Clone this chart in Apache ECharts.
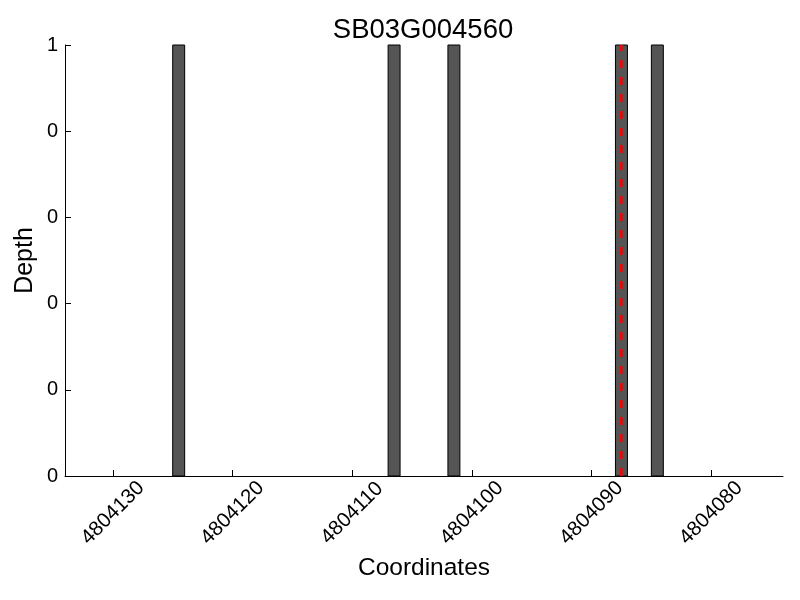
<!DOCTYPE html>
<html>
<head>
<meta charset="utf-8">
<script src="https://cdn.jsdelivr.net/npm/echarts@6/dist/echarts.min.js"></script>
<style>html,body{margin:0;padding:0;background:#fff}#c{width:800px;height:600px}</style>
</head>
<body>
<div id="c"></div>
<script>
// Data
const titleText = 'SB03G004560';
const barPositions = [4804124, 4804106, 4804101, 4804087, 4804084];
const depths = [1, 1, 1, 1, 1];
const markerPosition = 4804087.5;
const xTickValues = [4804080, 4804090, 4804100, 4804110, 4804120, 4804130];
const yTickValues = [0, 0.2, 0.4, 0.6, 0.8, 1];
const xRange = [4804074, 4804134];

const BAR_SPAN = 1;
const FONT = 'Liberation Sans, Arial, Helvetica, sans-serif';

const chart = echarts.init(document.getElementById('c'), null, {renderer: 'canvas'});
chart.setOption({
  backgroundColor: '#fff',
  animation: false,
  title: {
    text: titleText,
    left: 418, textAlign: 'center', top: 11,
    textStyle: {fontFamily: FONT, fontSize: 27.5, fontWeight: 'normal', color: '#000'}
  },
  grid: {left: 65, right: 17, top: 45, bottom: 124, containLabel: false, outerBoundsMode: 'none'},
  xAxis: {
    type: 'value', inverse: true, min: xRange[0], max: xRange[1],
    name: 'Coordinates', nameLocation: 'middle', nameGap: 80, nameMoveOverlap: false,
    nameTextStyle: {fontFamily: FONT, fontSize: 24.5, color: '#000'},
    axisLine: {show: true, lineStyle: {color: '#000', width: 1}},
    axisTick: {show: true, inside: true, length: 6, customValues: xTickValues, lineStyle: {color: '#000'}},
    axisLabel: {show: true, customValues: xTickValues, rotate: 45, align: 'center', verticalAlign: 'middle', margin: 37,
      fontFamily: FONT, fontSize: 20.5, color: '#000', formatter: v => String(v)},
    splitLine: {show: false}
  },
  yAxis: {
    type: 'value', min: 0, max: 1,
    name: 'Depth', nameLocation: 'middle', nameGap: 27, nameRotate: 90, nameMoveOverlap: false,
    nameTextStyle: {fontFamily: FONT, fontSize: 25, color: '#000'},
    axisLine: {show: true, lineStyle: {color: '#000', width: 1}},
    axisTick: {show: true, inside: true, length: 6, customValues: yTickValues, lineStyle: {color: '#000'}},
    axisLabel: {show: true, customValues: yTickValues, margin: 7, fontFamily: FONT, fontSize: 20, color: '#000',
      formatter: v => String(Math.trunc(Math.round(v * 10) / 10))},
    splitLine: {show: false}
  },
  series: [{
    type: 'custom',
    data: barPositions.map((p, i) => [p, depths[i]]),
    encode: {x: 0, y: 1},
    renderItem: function (params, api) {
      const a = api.coord([api.value(0), 0]);
      const b = api.coord([api.value(0) + BAR_SPAN, api.value(1)]);
      return {
        type: 'rect',
        shape: {x: Math.min(a[0], b[0]), y: b[1], width: Math.abs(b[0] - a[0]), height: a[1] - b[1]},
        style: {fill: '#555555', stroke: '#000', lineWidth: 1}
      };
    },
    markLine: {
      silent: true, symbol: ['none', 'none'], label: {show: false},
      lineStyle: {color: '#ff0000', type: [8, 9], width: 3},
      data: [{xAxis: markerPosition}]
    },
    z: 2
  }]
});
</script>
</body>
</html>
